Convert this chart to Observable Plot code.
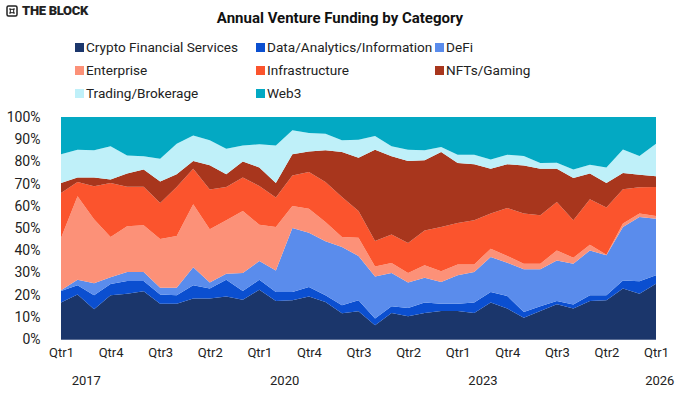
<!DOCTYPE html>
<html>
<head>
<meta charset="utf-8">
<script src="https://cdn.jsdelivr.net/npm/d3@7"></script>
<script src="https://cdn.jsdelivr.net/npm/@observablehq/plot@0.6"></script>
<style>
  html, body { margin: 0; padding: 0; background: #fff; }
  body { width: 680px; height: 397px; position: relative; font-family: Roboto, "Noto Sans", sans-serif; color: #222; overflow: hidden; }
  #logo { position: absolute; left: 6px; top: 3px; font-weight: 900; font-size: 13px; letter-spacing: -0.3px; color: #222; display: flex; align-items: center; gap: 4px; }
  #title { position: absolute; left: 0; width: 680px; top: 9px; text-align: center; font-weight: 700; font-size: 15px; color: #111; }
  #legend { position: absolute; top: 37px; left: 75px; display: grid; grid-template-columns: 181px 179px 160px; row-gap: 3px; font-size: 13.6px; }
  .item { display: flex; align-items: center; height: 20px; white-space: nowrap; }
  .sw { width: 9px; height: 9px; margin-right: 2px; display: inline-block; }
  #chart { position: absolute; left: 0; top: 105px; }
</style>
</head>
<body>
<div id="logo"><svg width="12" height="12" viewBox="0 0 12 12"><rect x="1" y="1" width="10" height="10" rx="1.5" fill="none" stroke="#222" stroke-width="1.5"/><path d="M3.5 3.5 L8.5 8.5 M8.5 3.5 L3.5 8.5" stroke="#222" stroke-width="1.3"/><rect x="4.3" y="4.3" width="3.4" height="3.4" fill="#fff" stroke="#222" stroke-width="1"/></svg><span>THE BLOCK</span></div>
<div id="title">Annual Venture Funding by Category</div>
<div id="legend"></div>
<div id="chart"></div>
<script>
const categories = ["Crypto Financial Services", "Data/Analytics/Information", "DeFi", "Enterprise", "Infrastructure", "NFTs/Gaming", "Trading/Brokerage", "Web3"];
const colors = ["#1b366b", "#0b4fd0", "#5a8cec", "#fc9178", "#fb542d", "#a8361d", "#bff0f9", "#03a9c3"];

// quarters: 2017 Q1 ... 2026 Q1
const quarterIndex = d3.range(37);
const quarterTickLabels = ["Qtr1", "Qtr2", "Qtr3", "Qtr4"];
const yearLabels = ["2017", "2020", "2023", "2026"];
const yearLabelPositions = [1.5, 13.5, 25.5, 36.2];

// share of funding (%) per quarter
const cryptoFinancial = [16.4, 20.1, 13.4, 19.7, 20.4, 21.5, 15.9, 15.9, 18.2, 18.2, 19.2, 17.7, 22.2, 17.1, 17.4, 19.2, 16.7, 11.6, 12.5, 6.2, 11.7, 10.2, 11.7, 12.6, 12.6, 11.7, 16.4, 13.7, 9.6, 12.6, 15.6, 13.7, 17.1, 17.4, 22.7, 20.4, 24.9];
const dataAnalytics = [5.2, 4.1, 6.3, 5.1, 5.7, 4.6, 4.1, 3.8, 6.0, 4.6, 7.5, 3.9, 4.5, 4.1, 3.8, 4.2, 3.0, 3.6, 4.9, 3.0, 3.0, 3.8, 4.7, 3.3, 3.3, 4.7, 4.8, 5.7, 2.6, 2.1, 1.5, 1.8, 2.6, 2.3, 3.7, 5.6, 3.8];
const defi = [0.4, 2.5, 5.4, 3.0, 4.1, 4.1, 3.1, 3.4, 8.1, 2.7, 2.7, 8.1, 8.4, 9.7, 28.8, 24.5, 24.3, 26.2, 20.0, 19.0, 15.0, 11.4, 11.2, 9.8, 12.8, 13.8, 15.7, 15.0, 19.2, 16.7, 18.3, 18.4, 20.2, 18.0, 24.1, 29.0, 25.5];
const enterprise = [23.5, 37.6, 28.8, 18.1, 20.6, 21.0, 21.9, 23.3, 28.4, 23.9, 24.1, 28.0, 16.4, 19.6, 9.9, 10.8, 8.7, 4.5, 8.2, 4.5, 4.5, 4.3, 5.6, 4.8, 4.9, 3.4, 3.8, 3.0, 2.5, 2.5, 4.5, 2.7, 2.6, 0.3, 1.5, 1.5, 1.2];
const infrastructure = [20.3, 6.4, 14.9, 24.4, 17.8, 17.4, 16.3, 22.1, 16.0, 17.9, 15.0, 15.0, 17.4, 13.2, 13.8, 16.5, 18.0, 18.1, 12.1, 11.4, 12.9, 13.5, 15.7, 20.0, 18.7, 19.9, 15.8, 21.6, 22.6, 21.8, 21.8, 16.9, 20.4, 21.2, 15.4, 11.8, 13.1];
const nftsGaming = [4.5, 2.1, 4.0, 1.6, 5.9, 7.8, 9.7, 5.7, 3.5, 11.0, 5.7, 7.3, 8.3, 6.6, 9.5, 9.3, 14.3, 20.2, 24.0, 41.2, 35.2, 37.0, 31.6, 33.7, 27.0, 25.2, 20.2, 19.7, 21.7, 21.0, 15.0, 19.0, 11.6, 11.1, 7.4, 5.7, 4.8];
const tradingBrokerage = [12.9, 12.5, 12.2, 14.9, 8.2, 5.9, 10.2, 13.8, 11.5, 11.2, 11.5, 7.2, 10.5, 16.9, 10.8, 8.3, 7.5, 5.3, 8.1, 6.1, 4.5, 5.1, 4.5, 2.3, 3.7, 4.3, 4.1, 4.3, 4.2, 2.6, 2.7, 3.9, 4.0, 6.9, 10.6, 8.4, 14.7];
const web3 = [16.8, 14.7, 15.0, 13.2, 17.3, 17.7, 18.8, 12.0, 8.3, 10.5, 14.3, 12.8, 12.3, 12.8, 6.0, 7.2, 7.5, 10.5, 10.2, 8.6, 13.2, 14.7, 15.0, 13.5, 17.0, 17.0, 19.2, 17.0, 17.6, 20.7, 20.6, 23.6, 21.5, 22.8, 14.6, 17.6, 12.0];

const series = [cryptoFinancial, dataAnalytics, defi, enterprise, infrastructure, nftsGaming, tradingBrokerage, web3];
const rows = [];
categories.forEach((c, ci) => {
  quarterIndex.forEach(q => rows.push({q, category: c, value: series[ci][q]}));
});

// legend
const legend = document.getElementById("legend");
categories.forEach((c, i) => {
  const el = document.createElement("div");
  el.className = "item";
  el.innerHTML = `<span class="sw" style="background:${colors[i]}"></span><span>${c}</span>`;
  legend.appendChild(el);
});

const chart = Plot.plot({
  width: 680,
  height: 292,
  marginTop: 12,
  marginBottom: 58,
  marginLeft: 61,
  marginRight: 24,
  style: {fontFamily: "Roboto, sans-serif", fontSize: "13px", color: "#222", background: "white"},
  x: {domain: [0, 36], axis: null, label: null},
  y: {domain: [0, 1], axis: null, label: null},
  color: {domain: categories, range: colors},
  marks: [
    Plot.areaY(rows, {x: "q", y: "value", z: "category", fill: "category", order: categories, offset: "normalize", curve: "linear"}),
    Plot.axisY({ticks: d3.range(0, 1.0001, 0.1), tickFormat: d => Math.round(d * 100) + "%", tickSize: 0, tickPadding: 21, fontSize: 14, label: null}),
    Plot.axisX({ticks: d3.range(0, 37, 3), tickFormat: i => quarterTickLabels[i % 4], tickSize: 0, tickPadding: 8, fontSize: 13, label: null}),
    Plot.axisX({ticks: yearLabelPositions, tickFormat: (d, i) => yearLabels[i], tickSize: 0, tickPadding: 36, fontSize: 13, label: null}),
    Plot.ruleY([0], {stroke: "#5a6d94", strokeWidth: 1})
  ]
});
document.getElementById("chart").appendChild(chart);
</script>
</body>
</html>
